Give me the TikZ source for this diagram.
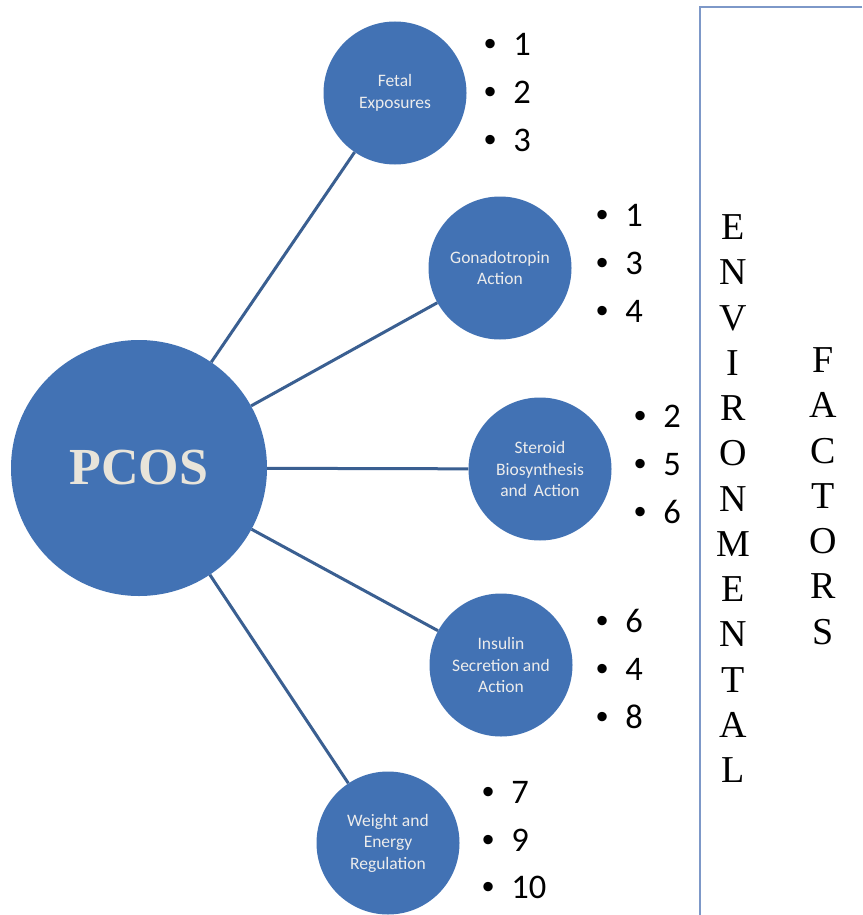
\documentclass[tikz,border=0pt]{standalone}
\usepackage{fontspec}
\setmainfont{Carlito}
\newfontfamily\timesf{Liberation Serif}
\newfontfamily\arialf{Liberation Sans}
\definecolor{circfill}{RGB}{66,114,180}
\definecolor{linkcol}{RGB}{58,95,145}
\definecolor{boxcol}{RGB}{125,152,200}
\definecolor{pcostext}{RGB}{232,228,218}
\definecolor{labtext}{RGB}{236,236,236}
\newcommand{\bul}[1]{{\arialf •}\hspace{17pt}#1}
\tikzset{
  bigcirc/.style={circle, fill=circfill, minimum size=256pt, inner sep=0pt, text=pcostext,
    font=\timesf\bfseries\fontsize{52}{60}\selectfont},
  smallcirc/.style={circle, fill=circfill, minimum size=143pt, inner sep=0pt, text=labtext,
    align=center, font=\fontsize{17.5}{21.5}\selectfont},
  link/.style={draw=linkcol, line width=3pt},
  blist/.style={anchor=north west, inner sep=0pt, align=left, font=\fontsize{34.5}{47.8}\selectfont},
  vletters/.style={anchor=north, inner sep=0pt, align=center, font=\timesf\fontsize{38}{45.25}\selectfont}
}
\begin{document}
\begin{tikzpicture}[x=1pt,y=-1pt]
\useasboundingbox (0,0) rectangle (862,915);
\fill[white] (0,0) rectangle (862,915);
% environmental box
\draw[boxcol, line width=2.5pt] (862,7) -- (700,7) -- (700,915);
% circles
\node[bigcirc] (pcos) at (139,468) {PCOS};
\node[smallcirc] (fetal) at (395,93) {Fetal\\Exposures};
\node[smallcirc] (gona) at (500,268) {Gonadotropin\\Action};
\node[smallcirc] (ster) at (540,469) {Steroid\\Biosynthesis\\and\ \,Action};
\node[smallcirc] (insu) at (501,665) {Insulin\\Secretion and\\Action};
\node[smallcirc] (weig) at (388,843) {Weight and\\Energy\\Regulation};
% connectors
\draw[link] (pcos) -- (fetal);
\draw[link] (pcos) -- (gona);
\draw[link] (pcos) -- (ster);
\draw[link] (pcos) -- (insu);
\draw[link] (pcos) -- (weig);
% bullet lists
\node[blist] (lf) at (484,33) {\bul{1}\\\bul{2}\\\bul{3}};
\node[blist] (lg) at (596,204) {\bul{1}\\\bul{3}\\\bul{4}};
\node[blist] (ls) at (634,405) {\bul{2}\\\bul{5}\\\bul{6}};
\node[blist] (li) at (596,609) {\bul{6}\\\bul{4}\\\bul{8}};
\node[blist] (lw) at (482,781) {\bul{7}\\\bul{9}\\\bul{10}};
% vertical words
\node[vletters] (env) at (733,214.5) {E\\N\\V\\I\\R\\O\\N\\M\\E\\N\\T\\A\\L};
\node[vletters] (fac) at (823,347.5) {F\\A\\C\\T\\O\\R\\S};
\end{tikzpicture}
\end{document}
